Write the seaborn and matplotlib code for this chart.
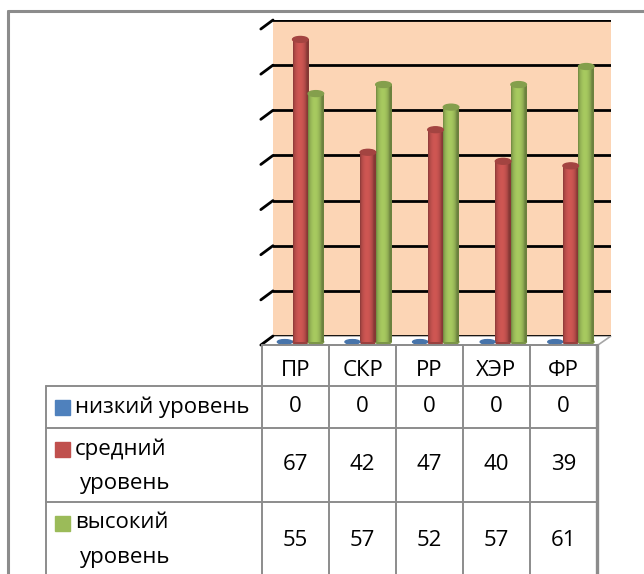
import numpy as np
import pandas as pd
import matplotlib
matplotlib.use("Agg")
import matplotlib.pyplot as plt
import matplotlib.transforms as mtransforms
from matplotlib.patches import Ellipse, Polygon
from matplotlib.colors import to_rgb
import seaborn as sns

# data
categories = ["ПР", "СКР", "РР", "ХЭР", "ФР"]
levels = ["низкий уровень", "средний уровень", "высокий уровень"]
legend_labels = ["низкий уровень", "средний\nуровень", "высокий\nуровень"]
low = [0, 0, 0, 0, 0]
mid = [67, 42, 47, 40, 39]
high = [55, 57, 52, 57, 61]
colors = ["#4F81BD", "#C0504D", "#9BBB59"]

df = pd.DataFrame({
    "cat": categories * 3,
    "level": [levels[0]] * 5 + [levels[1]] * 5 + [levels[2]] * 5,
    "value": low + mid + high,
})

sns.set_theme(style="white")
plt.rcParams["font.family"] = ["Open Sans", "DejaVu Sans"]
plt.rcParams["text.color"] = "black"

W, H = 644, 574
fig = plt.figure(figsize=(W / 100, H / 100), dpi=100)


def fx(px):
    return px / W


def fy(py):
    return 1 - py / H


# back wall of the chart
ax = fig.add_axes([fx(273), fy(336), fx(611) - fx(273), fy(20) - fy(336)])
ax.set_facecolor("#FCD5B5")

sns.barplot(data=df, x="cat", y="value", hue="level", palette=colors,
            width=0.69, saturation=1, legend=False, ax=ax, zorder=3)

ax.set_ylim(0, 70)
ax.set_yticks(range(0, 71, 10))
ax.yaxis.grid(True, color="black", lw=2)
ax.xaxis.grid(False)
ax.set_axisbelow(True)
for s in ax.spines.values():
    s.set_visible(False)
ax.tick_params(left=False, bottom=False, labelleft=False, labelbottom=False)
ax.set_xlabel("")
ax.set_ylabel("")

# cylinders stand on the front of the floor (perspective offset)
depth = -1.3
for b in list(ax.patches):
    x0, w, h = b.get_x(), b.get_width(), b.get_height()
    base = np.array(to_rgb(b.get_facecolor()))
    cx = x0 + w / 2
    b.set_visible(False)
    if h <= 0:
        ax.add_patch(Ellipse((cx, depth), w * 0.95, 1.0, color=base * 0.9,
                             clip_on=False, zorder=4))
        continue
    t = np.linspace(0, 1, 40)
    shade = 0.70 + 0.38 * np.sin(np.pi * np.clip(t * 1.15, 0, 1)) ** 0.6
    img = np.clip(base[None, None, :] * shade[None, :, None], 0, 1)
    ax.imshow(img, extent=[x0, x0 + w, depth, h + depth], aspect="auto",
              zorder=3.5, clip_on=False, interpolation="bilinear")
    ax.add_patch(Ellipse((cx, depth), w, 1.2, color=base * 0.8,
                         clip_on=False, zorder=3.4))
    ax.add_patch(Ellipse((cx, h + depth), w, 1.3, color=base * 0.85,
                         clip_on=False, zorder=3.6))

ax.set_xlim(-0.404, 4.596)
ax.set_ylim(0, 70)

# diagonal side ticks at the left edge of the wall
blend = mtransforms.blended_transform_factory(ax.transAxes, ax.transData)
for yv in ax.get_yticks():
    ax.plot([0, -0.036], [yv, yv - 2.0], color="black", lw=2,
            transform=blend, clip_on=False, zorder=2)

# floor
floor = Polygon([[fx(273), fy(336)], [fx(611), fy(336)], [fx(598), fy(345)],
                 [fx(262), fy(345)]], closed=True, transform=fig.transFigure,
                facecolor="white", edgecolor="#A6A6A6", lw=1.2, zorder=-1)
fig.patches.append(floor)

# outer frame
gray = "#8C8C8C"
fig.add_artist(plt.Line2D([fx(8), fx(8)], [fy(11), 0], color=gray, lw=2.2,
                          transform=fig.transFigure))
fig.add_artist(plt.Line2D([fx(8), 1], [fy(11), fy(11)], color=gray, lw=2.2,
                          transform=fig.transFigure))

# data table
col_x = np.linspace(262, 597, len(categories) + 1)
row_y = [386, 428, 502, 576]
tl = dict(color=gray, lw=1.4, transform=fig.transFigure)
fig.add_artist(plt.Line2D([fx(262), fx(597)], [fy(345), fy(345)], **tl))
for xv in col_x:
    fig.add_artist(plt.Line2D([fx(xv), fx(xv)], [fy(345), 0], **tl))
fig.add_artist(plt.Line2D([fx(597), fx(597)], [fy(345), 0], color=gray,
                          lw=2.4, transform=fig.transFigure))
fig.add_artist(plt.Line2D([fx(46), fx(46)], [fy(386), 0], **tl))
for yv in row_y[:3]:
    fig.add_artist(plt.Line2D([fx(46), fx(597)], [fy(yv), fy(yv)], **tl))

fs = 16
for i, c in enumerate(categories):
    cxp = (col_x[i] + col_x[i + 1]) / 2
    fig.text(fx(cxp), fy(371), c, ha="center", va="center", fontsize=fs)

series = [low, mid, high]
for r, vals in enumerate(series):
    cy = 540 if r == 2 else (row_y[r] + row_y[r + 1]) / 2
    for i, v in enumerate(vals):
        cxp = (col_x[i] + col_x[i + 1]) / 2
        fig.text(fx(cxp), fy(cy), str(v), ha="center", va="center",
                 fontsize=fs)
    # legend key and label
    key_y = row_y[r] + 21
    fig.patches.append(plt.Rectangle((fx(55), fy(key_y + 7.5)), fx(15),
                                     fy(0) - fy(15), color=colors[r],
                                     transform=fig.transFigure))
    for k, ln in enumerate(legend_labels[r].split("\n")):
        fig.text(fx(75 if k == 0 else 80), fy(key_y + k * 35), ln,
                 ha="left", va="center", fontsize=fs)

fig.savefig("out.png", dpi=100)
